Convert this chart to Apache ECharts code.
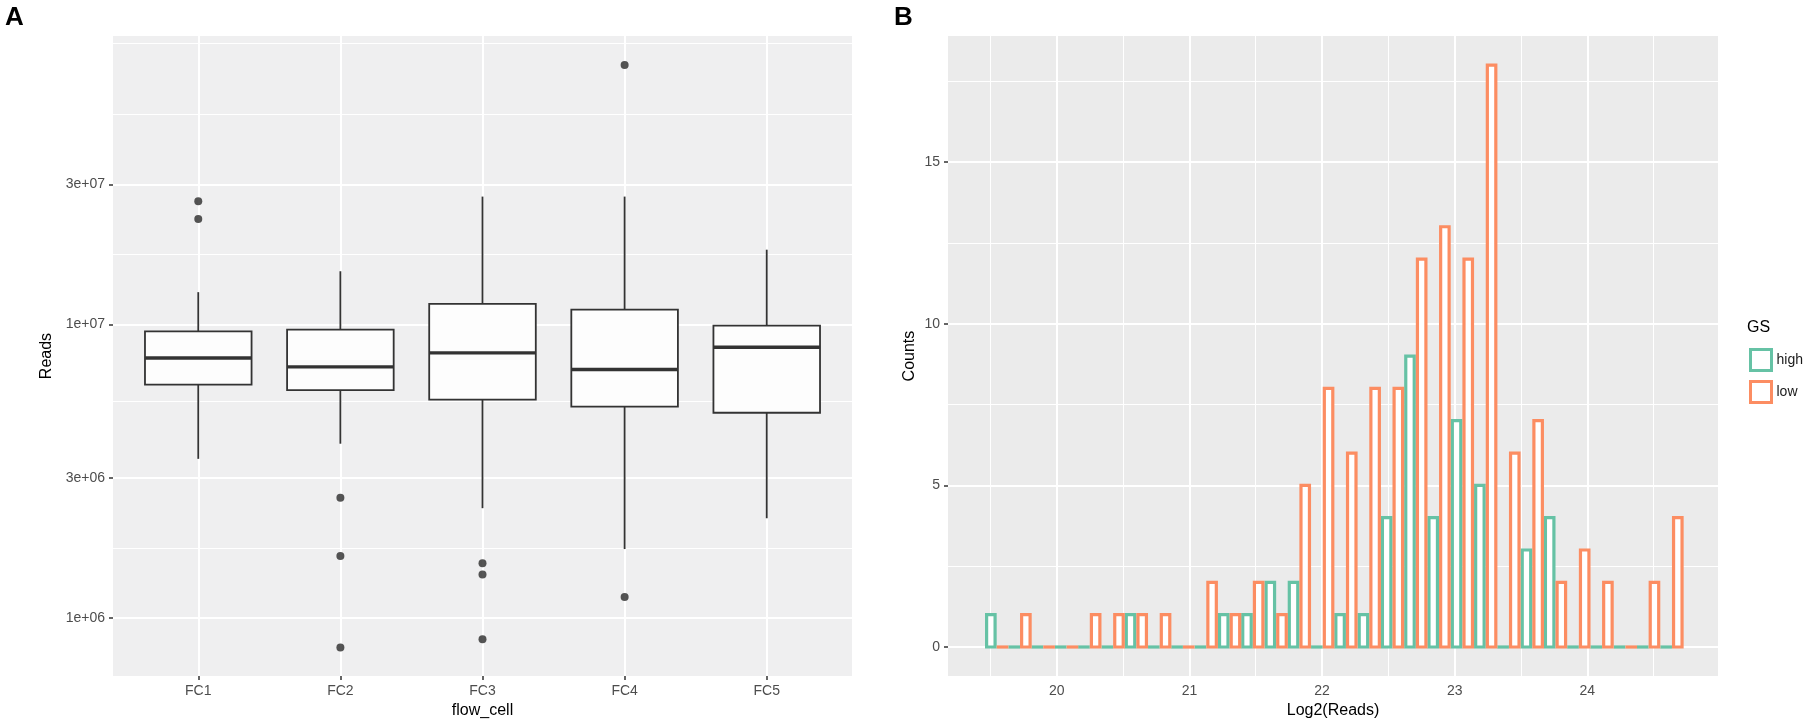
<!DOCTYPE html>
<html lang="en">
<head>
<meta charset="UTF-8">
<title>Reads per flow cell and Log2(Reads) histogram</title>
<script src="https://cdn.jsdelivr.net/npm/echarts@6/dist/echarts.min.js"></script>
<style>
    html, body {
        margin: 0;
        padding: 0;
        background: #ffffff;
    }
    #chart {
        width: 1807px;
        height: 724px;
    }
</style>
</head>
<body>
<div id="chart"></div>
<script>
    // ---- panel A: reads per flow cell (log scale) ----
    const flowCells   = ['FC1', 'FC2', 'FC3', 'FC4', 'FC5'];
    const whiskerLow  = [3.49e6, 3.93e6, 2.37e6, 1.72e6, 2.19e6];
    const quartile1   = [6.25e6, 5.98e6, 5.55e6, 5.26e6, 5.01e6];
    const median      = [7.70e6, 7.18e6, 8.01e6, 7.03e6, 8.37e6];
    const quartile3   = [9.49e6, 9.62e6, 1.176e7, 1.125e7, 9.92e6];
    const whiskerHigh = [1.29e7, 1.52e7, 2.73e7, 2.73e7, 1.80e7];
    const outliers = [
        ['FC1', 2.63e7], ['FC1', 2.29e7],
        ['FC2', 2.57e6], ['FC2', 1.63e6], ['FC2', 7.95e5],
        ['FC3', 1.54e6], ['FC3', 1.41e6], ['FC3', 8.48e5],
        ['FC4', 7.66e7], ['FC4', 1.18e6]
    ];
    const readTicks = [1e6, 3e6, 1e7, 3e7];
    const readMinor = [1.73e6, 5.48e6, 1.74e7, 5.2e7, 9.1e7];

    // ---- panel B: histogram of log2(reads), dodged by GS ----
    const binCenters = [19.547, 19.723, 19.898, 20.074, 20.249, 20.425, 20.600, 20.776, 20.951, 21.127,
                        21.303, 21.478, 21.654, 21.829, 22.005, 22.180, 22.356, 22.531, 22.707, 22.882,
                        23.058, 23.234, 23.409, 23.585, 23.760, 23.936, 24.111, 24.287, 24.462, 24.638];
    const highCounts = [1, 0, 0, 0, 0, 0, 1, 0, 0, 0, 1, 1, 2, 2, 0, 1, 1, 4, 9, 4, 7, 5, 0, 3, 4, 0, 0, 0, 0, 0];
    const lowCounts  = [0, 1, 0, 0, 1, 1, 1, 1, 0, 2, 1, 2, 1, 5, 8, 6, 8, 8, 12, 13, 12, 18, 6, 7, 2, 3, 2, 0, 2, 4];
    const log2Ticks  = [20, 21, 22, 23, 24];
    const log2Minor  = [19.5, 20.5, 21.5, 22.5, 23.5, 24.5];
    const countTicks = [0, 5, 10, 15];
    const countMinor = [2.5, 7.5, 12.5, 17.5];

    const colorHigh = '#66C2A5';
    const colorLow  = '#FC8D62';
    const binWidth  = binCenters[1] - binCenters[0];
    const boxHalf   = 0.375;
    const barStroke = 3.2;

    const font = 'Liberation Sans, Arial, sans-serif';
    const tickLabel = { color: '#4D4D4D', fontSize: 14, fontFamily: font, margin: 8 };
    const axisTitle = { color: '#000000', fontSize: 16, fontFamily: font };

    // white grid lines drawn as markLines under the data
    function gridLines(key, values, width) {
        return values.map(v => ({ [key]: v, lineStyle: { color: '#ffffff', width: width, type: 'solid' } }));
    }
    function gridSeries(xi, yi, lines) {
        return {
            type: 'line', xAxisIndex: xi, yAxisIndex: yi, data: [], z: 1, silent: true,
            markLine: { z: 1, silent: true, symbol: ['none', 'none'], label: { show: false }, animation: false, data: lines }
        };
    }

    function boxItem(params, api) {
        const x = api.value(0);
        const lo = api.coord([x, api.value(1)]);
        const b1 = api.coord([x, api.value(2)]);
        const md = api.coord([x, api.value(3)]);
        const b3 = api.coord([x, api.value(4)]);
        const hi = api.coord([x, api.value(5)]);
        const left = api.coord([x - boxHalf, api.value(3)])[0];
        const right = api.coord([x + boxHalf, api.value(3)])[0];
        const ink = { stroke: '#333333', lineWidth: 1.8 };
        return {
            type: 'group',
            children: [
                { type: 'line', shape: { x1: hi[0], y1: hi[1], x2: b3[0], y2: b3[1] }, style: ink },
                { type: 'line', shape: { x1: b1[0], y1: b1[1], x2: lo[0], y2: lo[1] }, style: ink },
                { type: 'rect', shape: { x: left, y: b3[1], width: right - left, height: b1[1] - b3[1] },
                  style: { fill: '#FDFDFD', stroke: '#333333', lineWidth: 1.8 } },
                { type: 'line', shape: { x1: left, y1: md[1], x2: right, y2: md[1] },
                  style: { stroke: '#333333', lineWidth: 3.4 } }
            ]
        };
    }

    // one half of a dodged bin; the outline stays inside the bar's own width
    function histItem(side, color) {
        return function (params, api) {
            const c = api.value(0);
            const n = api.value(1);
            const xa = side < 0 ? c - binWidth / 2 : c;
            const xb = side < 0 ? c : c + binWidth / 2;
            const p0 = api.coord([xa, 0]);
            const p1 = api.coord([xb, n]);
            const x0 = p0[0] + barStroke / 2;
            const x1 = p1[0] - barStroke / 2;
            if (n === 0) {
                return { type: 'line', shape: { x1: p0[0], y1: p0[1], x2: p1[0], y2: p0[1] },
                         style: { stroke: color, lineWidth: barStroke } };
            }
            return { type: 'rect', shape: { x: x0, y: p1[1], width: x1 - x0, height: p0[1] - p1[1] },
                     style: { fill: '#ffffff', stroke: color, lineWidth: barStroke } };
        };
    }

    const chart = echarts.init(document.getElementById('chart'), null, { renderer: 'canvas' });

    const option = {
        animation: false,
        backgroundColor: '#ffffff',
        title: [
            { text: 'A', left: 0, top: 0, textStyle: { fontSize: 26, fontWeight: 'bold', color: '#000', fontFamily: font } },
            { text: 'B', left: 889, top: 0, textStyle: { fontSize: 26, fontWeight: 'bold', color: '#000', fontFamily: font } },
            { text: 'GS', left: 1742, top: 315, textStyle: { fontSize: 16, fontWeight: 'normal', color: '#000', fontFamily: font } }
        ],
        legend: {
            orient: 'vertical',
            left: 1744,
            top: 343,
            icon: 'rect',
            itemWidth: 21,
            itemHeight: 21,
            itemGap: 8,
            textStyle: { fontSize: 14, color: '#1A1A1A', fontFamily: font },
            data: [
                { name: 'high', itemStyle: { color: '#ffffff', borderColor: colorHigh, borderWidth: 3 } },
                { name: 'low', itemStyle: { color: '#ffffff', borderColor: colorLow, borderWidth: 3 } }
            ]
        },
        grid: [
            { left: 113, top: 36, width: 739, height: 642, show: true, backgroundColor: '#EFEFF0', borderWidth: 0 },
            { left: 948, top: 36, width: 770, height: 643, show: true, backgroundColor: '#EBEBEB', borderWidth: 0 }
        ],
        xAxis: [
            {
                gridIndex: 0, type: 'value', min: 0.4, max: 5.6,
                name: 'flow_cell', nameLocation: 'middle', nameGap: 25, nameTextStyle: axisTitle,
                axisLine: { show: false },
                axisTick: { show: true, length: 4, customValues: [1, 2, 3, 4, 5], lineStyle: { color: '#333', width: 1.5 } },
                axisLabel: Object.assign({}, tickLabel, { customValues: [1, 2, 3, 4, 5], formatter: v => flowCells[Math.round(v) - 1] }),
                splitLine: { show: false }
            },
            {
                gridIndex: 1, type: 'value', min: 19.18, max: 24.985,
                name: 'Log2(Reads)', nameLocation: 'middle', nameGap: 25, nameTextStyle: axisTitle,
                axisLine: { show: false },
                axisTick: { show: true, length: 4, customValues: log2Ticks, lineStyle: { color: '#333', width: 1.5 } },
                axisLabel: Object.assign({}, tickLabel, { customValues: log2Ticks }),
                splitLine: { show: false }
            }
        ],
        yAxis: [
            {
                gridIndex: 0, type: 'log', logBase: 10, min: 6.35e5, max: 9.62e7,
                name: 'Reads', nameLocation: 'middle', nameGap: 58, nameTextStyle: axisTitle,
                axisLine: { show: false },
                axisTick: { show: true, length: 4, customValues: readTicks, lineStyle: { color: '#333', width: 1.5 } },
                axisLabel: Object.assign({}, tickLabel, {
                    customValues: readTicks,
                    formatter: v => Number(v).toExponential(0).replace('e+', 'e+0')
                }),
                splitLine: { show: false },
                minorSplitLine: { show: false }
            },
            {
                gridIndex: 1, type: 'value', min: -0.9, max: 18.9,
                name: 'Counts', nameLocation: 'middle', nameGap: 30, nameTextStyle: axisTitle,
                axisLine: { show: false },
                axisTick: { show: true, length: 4, customValues: countTicks, lineStyle: { color: '#333', width: 1.5 } },
                axisLabel: Object.assign({}, tickLabel, { customValues: countTicks }),
                splitLine: { show: false }
            }
        ],
        series: [
            gridSeries(0, 0, gridLines('yAxis', readMinor, 1)
                .concat(gridLines('yAxis', readTicks, 2))
                .concat(gridLines('xAxis', [1, 2, 3, 4, 5], 2))),
            gridSeries(1, 1, gridLines('yAxis', countMinor, 1)
                .concat(gridLines('yAxis', countTicks, 2))
                .concat(gridLines('xAxis', log2Minor, 1))
                .concat(gridLines('xAxis', log2Ticks, 2))),
            {
                name: 'boxes', type: 'custom', xAxisIndex: 0, yAxisIndex: 0, z: 3,
                renderItem: boxItem,
                encode: { x: 0, y: [1, 2, 3, 4, 5] },
                data: flowCells.map((c, i) => [i + 1, whiskerLow[i], quartile1[i], median[i], quartile3[i], whiskerHigh[i]])
            },
            {
                name: 'outliers', type: 'scatter', xAxisIndex: 0, yAxisIndex: 0, z: 4,
                symbolSize: 8,
                itemStyle: { color: '#2B2B2B' },
                data: outliers.map(o => [flowCells.indexOf(o[0]) + 1, o[1]])
            },
            {
                name: 'high', type: 'custom', xAxisIndex: 1, yAxisIndex: 1, z: 3,
                itemStyle: { color: '#ffffff', borderColor: colorHigh, borderWidth: 3 },
                renderItem: histItem(-1, colorHigh),
                data: binCenters.map((c, i) => [c, highCounts[i]])
            },
            {
                name: 'low', type: 'custom', xAxisIndex: 1, yAxisIndex: 1, z: 3,
                itemStyle: { color: '#ffffff', borderColor: colorLow, borderWidth: 3 },
                renderItem: histItem(1, colorLow),
                data: binCenters.map((c, i) => [c, lowCounts[i]])
            }
        ]
    };

    chart.setOption(option);
    window.addEventListener('resize', () => chart.resize());
</script>
</body>
</html>
